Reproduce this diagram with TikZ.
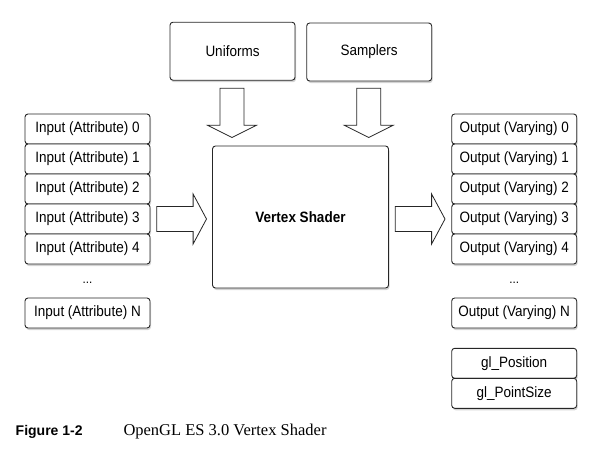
\documentclass[tikz,border=0pt]{standalone}
\usepackage{fontspec}
\setmainfont{Liberation Serif}
\newfontfamily\boxfont{Liberation Sans}[FakeStretch=0.9]
\newfontfamily\capfont{Liberation Sans}
\usetikzlibrary{positioning,calc,shadows}

\begin{document}
\begin{tikzpicture}[x=1pt,y=-1pt,
		box/.style={draw=black!85, line width=0.9pt, fill=white, rounded corners=3pt,
			inner sep=0pt, outer sep=0pt, font=\boxfont\fontsize{15}{17}\selectfont,
			drop shadow={opacity=0.35, shadow xshift=1pt, shadow yshift=-2pt}},
		item/.style={box, minimum width=125pt, minimum height=30pt},
		blockarrow/.style={draw=black!85, line width=0.8pt, fill=white, line join=miter}]
		\useasboundingbox (0,0) rectangle (609,451);
		% top inputs and the shader
		\node[box, minimum width=125pt, minimum height=58pt] (uni) at (232.5,51.2) {Uniforms};
		\node[box, minimum width=125pt, minimum height=58pt] (samp) at (369.2,52) {Samplers};
		\node[box, minimum width=176pt, minimum height=142pt, font=\boxfont\bfseries\fontsize{15}{17}\selectfont] (vs) at (300.5,217) {Vertex Shader};
		% attribute and varying stacks
		\foreach \i in {0,...,4} {
			\node[item] (in\i) at (87.5,129+30*\i) {Input (Attribute) \i};
			\node[item] (out\i) at (514.2,129+30*\i) {Output (Varying) \i};
		}
		\node[font=\boxfont\fontsize{13}{15}\selectfont] (indots) at (87.5,283) {...};
		\node[font=\boxfont\fontsize{13}{15}\selectfont] (outdots) at (514.2,283) {...};
		\node[item] (inN) at (87.5,313) {Input (Attribute) N};
		\node[item] (outN) at (514.2,313) {Output (Varying) N};
		\node[item] (glpos) at (514.2,363.3) {gl\_Position};
		\node[item, below=0pt of glpos] (glsize) {gl\_PointSize};
		% block arrows
		\coordinate (uniTip) at ($(uni.south |- vs.north)+(-0.5,-8.5)$);
		\coordinate (sampTip) at ($(samp.south |- vs.north)+(-0.5,-8.5)$);
		\coordinate (inTip) at ($(in3.east -| vs.west)+(-6,0)$);
		\coordinate (outTip) at ($(out3.west)+(-6.7,0)$);
		\foreach \t in {uniTip,sampTip}
			\draw[blockarrow] (\t) -- ++(24.5,-12.3) -- ++(-12.5,0) -- ++(0,-37) -- ++(-24,0) -- ++(0,37) -- ++(-12.5,0) -- cycle;
		\foreach \t in {inTip,outTip}
			\draw[blockarrow] (\t) -- ++(-13.4,-25) -- ++(0,12.5) -- ++(-36.3,0) -- ++(0,25) -- ++(36.3,0) -- ++(0,12.5) -- cycle;
		% caption
		\node[anchor=base west, inner sep=0pt, font=\capfont\bfseries\fontsize{14}{16}\selectfont] (fig) at (15.5,435) {Figure 1-2};
		\node[anchor=base west, inner sep=0pt, font=\fontsize{16.5}{18}\selectfont] (title) at (123.3,435) {OpenGL ES 3.0 Vertex Shader};
	\end{tikzpicture}
\end{document}
